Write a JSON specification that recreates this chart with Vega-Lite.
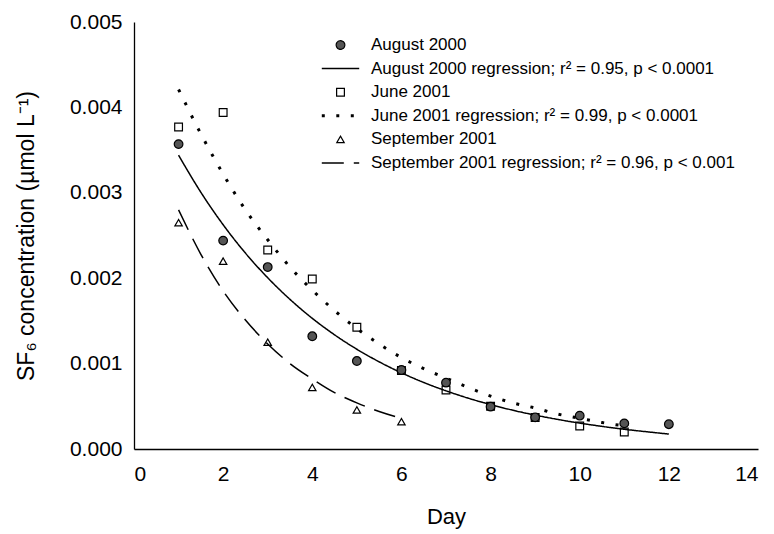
{
  "$schema": "https://vega.github.io/schema/vega-lite/v6.json",
  "autosize": {"type": "none"},
  "padding": {"left": 134, "top": 22, "right": 16, "bottom": 85},
  "width": 624,
  "height": 427,
  "background": "white",
  "config": {
    "view": {"stroke": null},
    "font": "Liberation Sans",
    "axis": {
      "domainColor": "black",
      "domainWidth": 1.3,
      "ticks": false,
      "grid": false,
      "labelFont": "Liberation Sans",
      "labelFontSize": 21,
      "labelColor": "black",
      "labelPadding": 12,
      "titleFont": "Liberation Sans",
      "titleFontSize": 22,
      "titleFontWeight": "normal",
      "titleColor": "black"
    },
    "legend": {
      "padding": 0,
      "labelFont": "Liberation Sans",
      "labelFontSize": 17,
      "labelColor": "black",
      "labelLimit": 600,
      "labelOffset": 10,
      "symbolStrokeColor": "black",
      "symbolStrokeWidth": 1.3,
      "rowPadding": 5.6
    }
  },
  "datasets": {
    "points": [
      {"day": 1, "conc": 0.00377, "series": "June 2001"},
      {"day": 2, "conc": 0.00394, "series": "June 2001"},
      {"day": 3, "conc": 0.00233, "series": "June 2001"},
      {"day": 4, "conc": 0.00199, "series": "June 2001"},
      {"day": 5, "conc": 0.001425, "series": "June 2001"},
      {"day": 6, "conc": 0.00092, "series": "June 2001"},
      {"day": 7, "conc": 0.00069, "series": "June 2001"},
      {"day": 8, "conc": 0.0005, "series": "June 2001"},
      {"day": 9, "conc": 0.00037, "series": "June 2001"},
      {"day": 10, "conc": 0.00027, "series": "June 2001"},
      {"day": 11, "conc": 0.0002, "series": "June 2001"},
      {"day": 1, "conc": 0.00265, "series": "September 2001"},
      {"day": 2, "conc": 0.0022, "series": "September 2001"},
      {"day": 3, "conc": 0.00125, "series": "September 2001"},
      {"day": 4, "conc": 0.00072, "series": "September 2001"},
      {"day": 5, "conc": 0.000457, "series": "September 2001"},
      {"day": 6, "conc": 0.00032, "series": "September 2001"},
      {"day": 1, "conc": 0.00357, "series": "August 2000"},
      {"day": 2, "conc": 0.00244, "series": "August 2000"},
      {"day": 3, "conc": 0.00213, "series": "August 2000"},
      {"day": 4, "conc": 0.00132, "series": "August 2000"},
      {"day": 5, "conc": 0.00103, "series": "August 2000"},
      {"day": 6, "conc": 0.000925, "series": "August 2000"},
      {"day": 7, "conc": 0.000777, "series": "August 2000"},
      {"day": 8, "conc": 0.000496, "series": "August 2000"},
      {"day": 9, "conc": 0.000371, "series": "August 2000"},
      {"day": 10, "conc": 0.00039, "series": "August 2000"},
      {"day": 11, "conc": 0.0003, "series": "August 2000"},
      {"day": 12, "conc": 0.00029, "series": "August 2000"}
    ],
    "curves": [
      {"day": 1, "conc": 0.00344, "series": "August 2000 regression; r² = 0.95, p < 0.0001"},
      {"day": 1.5, "conc": 0.003006, "series": "August 2000 regression; r² = 0.95, p < 0.0001"},
      {"day": 2, "conc": 0.002626, "series": "August 2000 regression; r² = 0.95, p < 0.0001"},
      {"day": 2.5, "conc": 0.002294, "series": "August 2000 regression; r² = 0.95, p < 0.0001"},
      {"day": 3, "conc": 0.002005, "series": "August 2000 regression; r² = 0.95, p < 0.0001"},
      {"day": 3.5, "conc": 0.001752, "series": "August 2000 regression; r² = 0.95, p < 0.0001"},
      {"day": 4, "conc": 0.00153, "series": "August 2000 regression; r² = 0.95, p < 0.0001"},
      {"day": 4.5, "conc": 0.001337, "series": "August 2000 regression; r² = 0.95, p < 0.0001"},
      {"day": 5, "conc": 0.001168, "series": "August 2000 regression; r² = 0.95, p < 0.0001"},
      {"day": 5.5, "conc": 0.001021, "series": "August 2000 regression; r² = 0.95, p < 0.0001"},
      {"day": 6, "conc": 0.000892, "series": "August 2000 regression; r² = 0.95, p < 0.0001"},
      {"day": 6.5, "conc": 0.000779, "series": "August 2000 regression; r² = 0.95, p < 0.0001"},
      {"day": 7, "conc": 0.000681, "series": "August 2000 regression; r² = 0.95, p < 0.0001"},
      {"day": 7.5, "conc": 0.000595, "series": "August 2000 regression; r² = 0.95, p < 0.0001"},
      {"day": 8, "conc": 0.00052, "series": "August 2000 regression; r² = 0.95, p < 0.0001"},
      {"day": 8.5, "conc": 0.000454, "series": "August 2000 regression; r² = 0.95, p < 0.0001"},
      {"day": 9, "conc": 0.000397, "series": "August 2000 regression; r² = 0.95, p < 0.0001"},
      {"day": 9.5, "conc": 0.000347, "series": "August 2000 regression; r² = 0.95, p < 0.0001"},
      {"day": 10, "conc": 0.000303, "series": "August 2000 regression; r² = 0.95, p < 0.0001"},
      {"day": 10.5, "conc": 0.000265, "series": "August 2000 regression; r² = 0.95, p < 0.0001"},
      {"day": 11, "conc": 0.000231, "series": "August 2000 regression; r² = 0.95, p < 0.0001"},
      {"day": 11.5, "conc": 0.000202, "series": "August 2000 regression; r² = 0.95, p < 0.0001"},
      {"day": 12, "conc": 0.000175, "series": "August 2000 regression; r² = 0.95, p < 0.0001"},
      {"day": 1, "conc": 0.00421, "series": "June 2001 regression; r² = 0.99, p < 0.0001"},
      {"day": 1.5, "conc": 0.00369, "series": "June 2001 regression; r² = 0.99, p < 0.0001"},
      {"day": 2, "conc": 0.00322, "series": "June 2001 regression; r² = 0.99, p < 0.0001"},
      {"day": 2.5, "conc": 0.0028, "series": "June 2001 regression; r² = 0.99, p < 0.0001"},
      {"day": 3, "conc": 0.00245, "series": "June 2001 regression; r² = 0.99, p < 0.0001"},
      {"day": 3.5, "conc": 0.00213, "series": "June 2001 regression; r² = 0.99, p < 0.0001"},
      {"day": 4, "conc": 0.00186, "series": "June 2001 regression; r² = 0.99, p < 0.0001"},
      {"day": 4.5, "conc": 0.00162, "series": "June 2001 regression; r² = 0.99, p < 0.0001"},
      {"day": 5, "conc": 0.00141, "series": "June 2001 regression; r² = 0.99, p < 0.0001"},
      {"day": 5.5, "conc": 0.00123, "series": "June 2001 regression; r² = 0.99, p < 0.0001"},
      {"day": 6, "conc": 0.00107, "series": "June 2001 regression; r² = 0.99, p < 0.0001"},
      {"day": 6.5, "conc": 0.00094, "series": "June 2001 regression; r² = 0.99, p < 0.0001"},
      {"day": 7, "conc": 0.00083, "series": "June 2001 regression; r² = 0.99, p < 0.0001"},
      {"day": 7.5, "conc": 0.00072, "series": "June 2001 regression; r² = 0.99, p < 0.0001"},
      {"day": 8, "conc": 0.00062, "series": "June 2001 regression; r² = 0.99, p < 0.0001"},
      {"day": 8.5, "conc": 0.00054, "series": "June 2001 regression; r² = 0.99, p < 0.0001"},
      {"day": 9, "conc": 0.00048, "series": "June 2001 regression; r² = 0.99, p < 0.0001"},
      {"day": 9.5, "conc": 0.00041, "series": "June 2001 regression; r² = 0.99, p < 0.0001"},
      {"day": 10, "conc": 0.00036, "series": "June 2001 regression; r² = 0.99, p < 0.0001"},
      {"day": 10.5, "conc": 0.00031, "series": "June 2001 regression; r² = 0.99, p < 0.0001"},
      {"day": 11, "conc": 0.00027, "series": "June 2001 regression; r² = 0.99, p < 0.0001"},
      {"day": 1, "conc": 0.0028, "series": "September 2001 regression; r² = 0.96, p < 0.001"},
      {"day": 1.5, "conc": 0.00228, "series": "September 2001 regression; r² = 0.96, p < 0.001"},
      {"day": 2, "conc": 0.00185, "series": "September 2001 regression; r² = 0.96, p < 0.001"},
      {"day": 2.5, "conc": 0.00151, "series": "September 2001 regression; r² = 0.96, p < 0.001"},
      {"day": 3, "conc": 0.00123, "series": "September 2001 regression; r² = 0.96, p < 0.001"},
      {"day": 3.5, "conc": 0.001, "series": "September 2001 regression; r² = 0.96, p < 0.001"},
      {"day": 4, "conc": 0.00082, "series": "September 2001 regression; r² = 0.96, p < 0.001"},
      {"day": 4.5, "conc": 0.00066, "series": "September 2001 regression; r² = 0.96, p < 0.001"},
      {"day": 5, "conc": 0.00054, "series": "September 2001 regression; r² = 0.96, p < 0.001"},
      {"day": 5.5, "conc": 0.00044, "series": "September 2001 regression; r² = 0.96, p < 0.001"},
      {"day": 6, "conc": 0.00036, "series": "September 2001 regression; r² = 0.96, p < 0.001"}
    ]
  },
  "encoding": {
    "x": {
      "field": "day", "type": "quantitative",
      "scale": {"domain": [0, 14], "nice": false, "zero": false},
      "axis": {"values": [0, 2, 4, 6, 8, 10, 12, 14], "title": "Day", "labelPadding": 14, "titlePadding": 22}
    },
    "y": {
      "field": "conc", "type": "quantitative",
      "scale": {"domain": [0, 0.005], "nice": false},
      "axis": {"values": [0, 0.001, 0.002, 0.003, 0.004, 0.005], "format": ".3f", "title": "SF₆ concentration (µmol L⁻¹)", "titleFontSize": 23, "titlePadding": 31}
    }
  },
  "layer": [
    {
      "data": {"name": "curves"},
      "mark": {"type": "line", "color": "black", "interpolate": "monotone"},
      "encoding": {
        "strokeDash": {
          "field": "series", "type": "nominal", "title": null,
          "legend": {"orient": "none", "legendX": 186, "legendY": 14.5, "clipHeight": 17,
            "encode": {"symbols": {"update": {"stroke": {"value": "black"}}}}},
          "scale": {
            "domain": ["August 2000", "August 2000 regression; r² = 0.95, p < 0.0001", "June 2001", "June 2001 regression; r² = 0.99, p < 0.0001", "September 2001", "September 2001 regression; r² = 0.96, p < 0.001"],
            "range": [[1, 0], [1, 0], [1, 0], [3, 11.5], [1, 0], [22, 10]]
          }
        },
        "strokeWidth": {
          "field": "series", "type": "nominal", "title": null,
          "legend": {"orient": "none", "legendX": 186, "legendY": 14.5, "clipHeight": 17,
            "encode": {"symbols": {"update": {"stroke": {"value": "black"}}}}},
          "scale": {
            "type": "ordinal",
            "domain": ["August 2000", "August 2000 regression; r² = 0.95, p < 0.0001", "June 2001", "June 2001 regression; r² = 0.99, p < 0.0001", "September 2001", "September 2001 regression; r² = 0.96, p < 0.001"],
            "range": [1.2, 1.5, 1.2, 3, 1.2, 1.5]
          }
        }
      }
    },
    {
      "data": {"name": "points"},
      "mark": {"type": "point", "stroke": "black", "strokeWidth": 1.2, "opacity": 1},
      "encoding": {
        "shape": {
          "field": "series", "type": "nominal", "title": null,
          "legend": {"orient": "none", "legendX": 186, "legendY": 14.5, "clipHeight": 17,
            "encode": {"symbols": {"update": {"stroke": {"value": "black"}}}}},
          "scale": {
            "domain": ["August 2000", "August 2000 regression; r² = 0.95, p < 0.0001", "June 2001", "June 2001 regression; r² = 0.99, p < 0.0001", "September 2001", "September 2001 regression; r² = 0.96, p < 0.001"],
            "range": ["circle", "stroke", "square", "stroke", "triangle-up", "stroke"]
          }
        },
        "fill": {
          "field": "series", "type": "nominal", "title": null,
          "legend": {"orient": "none", "legendX": 186, "legendY": 14.5, "clipHeight": 17,
            "encode": {"symbols": {"update": {"stroke": {"value": "black"}}}}},
          "scale": {
            "domain": ["August 2000", "August 2000 regression; r² = 0.95, p < 0.0001", "June 2001", "June 2001 regression; r² = 0.99, p < 0.0001", "September 2001", "September 2001 regression; r² = 0.96, p < 0.001"],
            "range": ["#555555", "transparent", "transparent", "transparent", "transparent", "transparent"]
          }
        },
        "size": {
          "field": "series", "type": "nominal", "title": null,
          "legend": {"orient": "none", "legendX": 186, "legendY": 14.5, "clipHeight": 17,
            "encode": {"symbols": {"update": {"stroke": {"value": "black"}}}}},
          "scale": {
            "type": "ordinal",
            "domain": ["August 2000", "August 2000 regression; r² = 0.95, p < 0.0001", "June 2001", "June 2001 regression; r² = 0.99, p < 0.0001", "September 2001", "September 2001 regression; r² = 0.96, p < 0.001"],
            "range": [75, 1400, 60, 1400, 55, 1400]
          }
        }
      }
    }
  ]
}
